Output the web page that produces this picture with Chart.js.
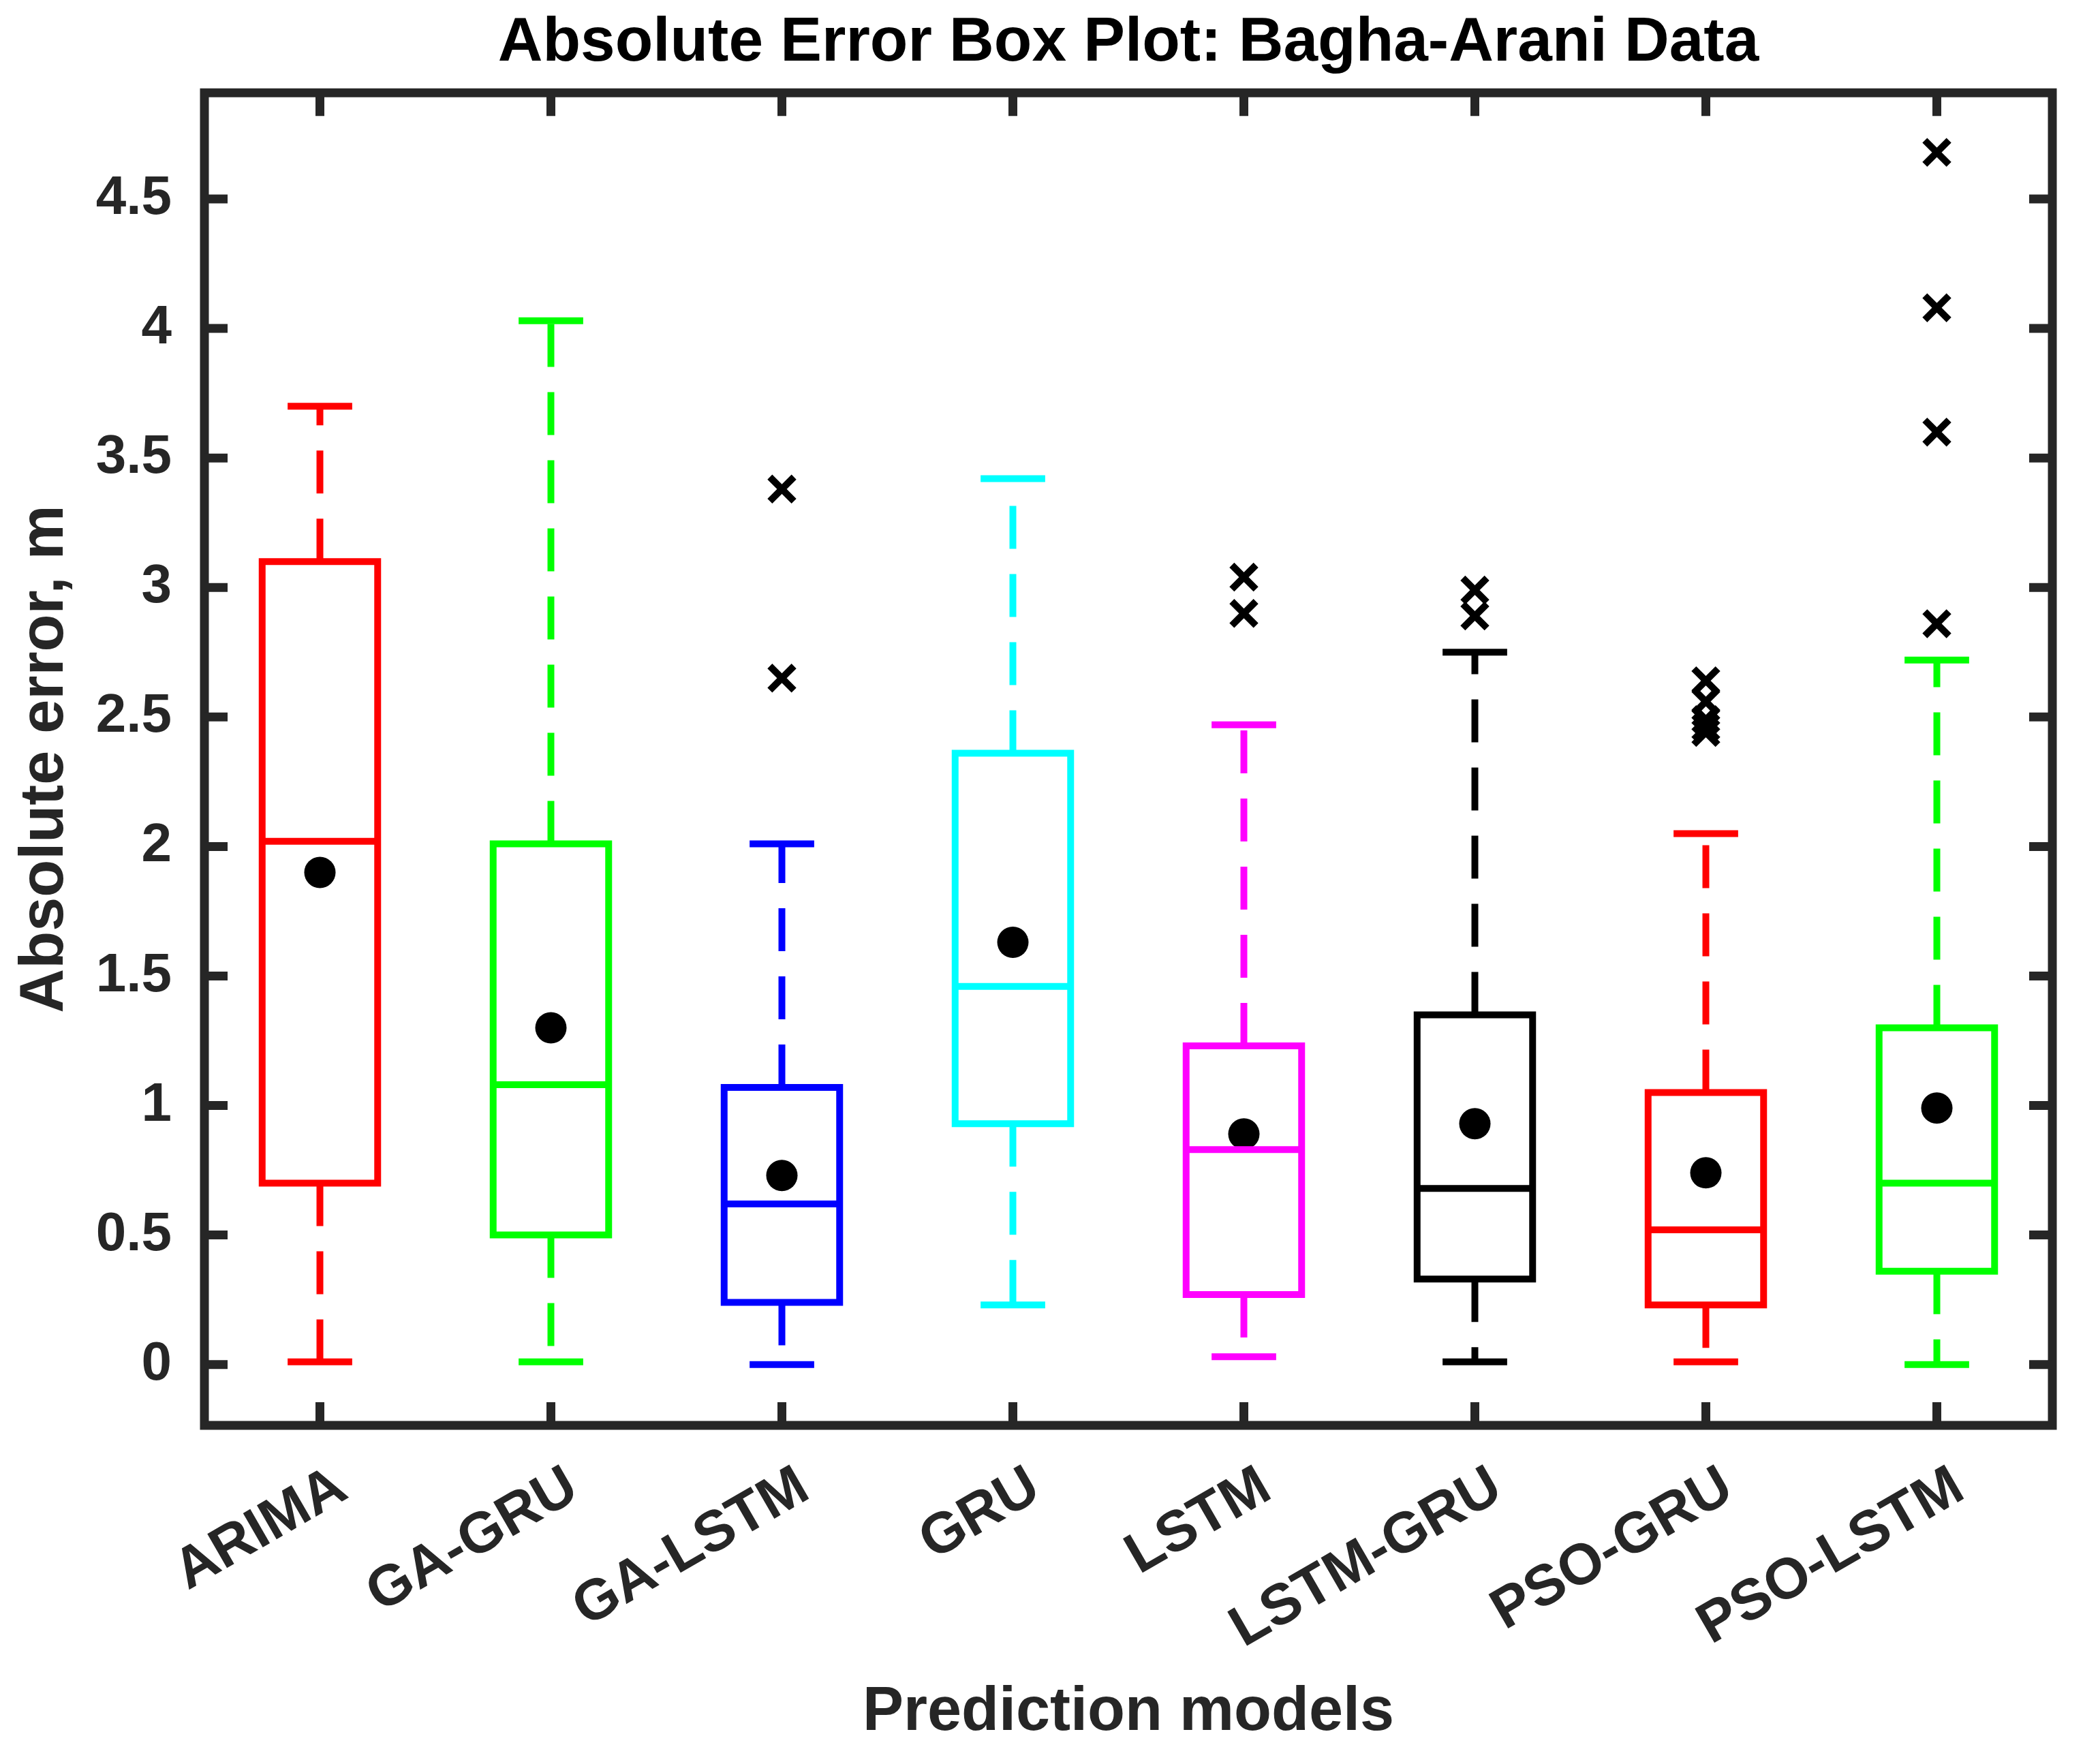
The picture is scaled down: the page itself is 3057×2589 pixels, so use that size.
<!DOCTYPE html>
<html lang="en">
<head>
    <meta charset="UTF-8">
    <title>Absolute Error Box Plot: Bagha-Arani Data</title>
    <script src="https://cdn.jsdelivr.net/npm/chart.js"></script>
    <style>
        html, body { margin: 0; padding: 0; background: #ffffff; }
        canvas { display: block; }
    </style>
</head>
<body>
    <canvas id="boxChart" width="3057" height="2589"></canvas>

    <script>
        // Values
        const categories = ["ARIMA", "GA-GRU", "GA-LSTM", "GRU", "LSTM", "LSTM-GRU", "PSO-GRU", "PSO-LSTM"];
        const whiskerLow = [0.01, 0.01, 0.00, 0.23, 0.03, 0.01, 0.01, 0.00];
        const q1 = [0.70, 0.50, 0.24, 0.93, 0.27, 0.33, 0.23, 0.36];
        const medians = [2.02, 1.08, 0.62, 1.46, 0.83, 0.68, 0.52, 0.70];
        const q3 = [3.10, 2.01, 1.07, 2.36, 1.23, 1.35, 1.05, 1.30];
        const whiskerHigh = [3.70, 4.03, 2.01, 3.42, 2.47, 2.75, 2.05, 2.72];
        const means = [1.90, 1.30, 0.73, 1.63, 0.89, 0.93, 0.74, 0.99];
        const outliers = [
            [],
            [],
            [3.38, 2.65],
            [],
            [3.04, 2.90],
            [2.99, 2.89],
            [2.64, 2.56, 2.49, 2.46, 2.44],
            [4.68, 4.08, 3.60, 2.86]
        ];
        const boxColors = ["#FF0000", "#00FF00", "#0000FF", "#00FFFF", "#FF00FF", "#000000", "#FF0000", "#00FF00"];
        const yTicks = [0, 0.5, 1, 1.5, 2, 2.5, 3, 3.5, 4, 4.5];

        const AXIS_COLOR = "#262626";
        const BOX_HALF = 0.25;
        const CAP_HALF = 0.125;
        const LINE_W = 10;
        const TICK_LEN = 34;

        Chart.defaults.font.family = "'Liberation Sans', Arial, sans-serif";
        Chart.defaults.font.weight = "bold";
        Chart.defaults.color = AXIS_COLOR;

        // box outline + median + caps, one solid path per model
        const boxPoints = (i) => {
            const x = i + 1;
            return [
                { x: x - BOX_HALF, y: q1[i] }, { x: x + BOX_HALF, y: q1[i] },
                { x: x + BOX_HALF, y: q3[i] }, { x: x - BOX_HALF, y: q3[i] },
                { x: x - BOX_HALF, y: q1[i] },
                { x: x, y: null },
                { x: x - BOX_HALF, y: medians[i] }, { x: x + BOX_HALF, y: medians[i] },
                { x: x, y: null },
                { x: x - CAP_HALF, y: whiskerHigh[i] }, { x: x + CAP_HALF, y: whiskerHigh[i] },
                { x: x, y: null },
                { x: x - CAP_HALF, y: whiskerLow[i] }, { x: x + CAP_HALF, y: whiskerLow[i] }
            ];
        };

        const datasets = [];

        // dashed whiskers, drawn from the box outwards
        categories.forEach((c, i) => {
            [[q3[i], whiskerHigh[i]], [q1[i], whiskerLow[i]]].forEach(([from, to]) => {
                datasets.push({
                    data: [{ x: i + 1, y: from }, { x: i + 1, y: to }],
                    borderColor: boxColors[i],
                    borderWidth: LINE_W,
                    borderDash: [63, 37],
                    borderCapStyle: "butt",
                    pointRadius: 0,
                    showLine: true
                });
            });
        });

        categories.forEach((c, i) => {
            datasets.push({
                data: boxPoints(i),
                borderColor: boxColors[i],
                borderWidth: LINE_W,
                borderCapStyle: "square",
                borderJoinStyle: "miter",
                pointRadius: 0,
                showLine: true,
                spanGaps: false
            });
        });

        datasets.push({
            data: means.map((m, i) => ({ x: i + 1, y: m })),
            showLine: false,
            pointStyle: "circle",
            pointRadius: 23,
            pointBackgroundColor: "#000000",
            pointBorderWidth: 0
        });

        const outlierPoints = [];
        outliers.forEach((list, i) => list.forEach(v => outlierPoints.push({ x: i + 1, y: v })));
        datasets.push({
            data: outlierPoints,
            showLine: false,
            pointStyle: "crossRot",
            pointRadius: 25,
            pointBorderWidth: 10,
            pointBorderColor: "#000000"
        });

        // MATLAB style box with inward ticks on all four sides
        const axesFrame = {
            id: "axesFrame",
            afterDraw(chart) {
                const { ctx, chartArea: a, scales } = chart;
                ctx.save();
                ctx.strokeStyle = AXIS_COLOR;
                ctx.lineWidth = 13;
                ctx.lineJoin = "miter";
                ctx.strokeRect(a.left, a.top, a.right - a.left, a.bottom - a.top);
                ctx.beginPath();
                scales.x.ticks.forEach(t => {
                    const px = scales.x.getPixelForValue(t.value);
                    ctx.moveTo(px, a.bottom);
                    ctx.lineTo(px, a.bottom - TICK_LEN);
                    ctx.moveTo(px, a.top);
                    ctx.lineTo(px, a.top + TICK_LEN);
                });
                scales.y.ticks.forEach(t => {
                    const py = scales.y.getPixelForValue(t.value);
                    ctx.moveTo(a.left, py);
                    ctx.lineTo(a.left + TICK_LEN, py);
                    ctx.moveTo(a.right, py);
                    ctx.lineTo(a.right - TICK_LEN, py);
                });
                ctx.stroke();
                ctx.restore();
            }
        };

        const ctx = document.getElementById("boxChart").getContext("2d");
        new Chart(ctx, {
            type: "line",
            data: { datasets },
            plugins: [axesFrame],
            options: {
                responsive: false,
                devicePixelRatio: 1,
                animation: false,
                layout: { padding: { left: 0, right: 45, top: 0, bottom: 0 } },
                scales: {
                    x: {
                        type: "linear",
                        min: 0.5,
                        max: 8.5,
                        afterBuildTicks: (s) => { s.ticks = categories.map((c, i) => ({ value: i + 1 })); },
                        afterFit: (s) => { s.height = 497; },
                        grid: { display: false },
                        border: { display: false },
                        ticks: {
                            autoSkip: false,
                            minRotation: 30,
                            maxRotation: 30,
                            padding: 33,
                            labelOffset: 33,
                            font: { size: 84, weight: "bold" },
                            callback: (v) => categories[v - 1]
                        },
                        title: {
                            display: true,
                            text: "Prediction models",
                            font: { size: 90, weight: "bold" },
                            padding: { top: 0, bottom: 21 }
                        }
                    },
                    y: {
                        type: "linear",
                        min: -0.235,
                        max: 4.91,
                        afterBuildTicks: (s) => { s.ticks = yTicks.map(v => ({ value: v })); },
                        afterFit: (s) => { s.width = 300; },
                        grid: { display: false },
                        border: { display: false },
                        ticks: {
                            padding: 40,
                            font: { size: 80, weight: "bold" },
                            callback: (v) => String(v)
                        },
                        title: {
                            display: true,
                            text: "Absolute error, m",
                            font: { size: 90, weight: "bold" },
                            padding: { top: 13, bottom: 0 }
                        }
                    }
                },
                plugins: {
                    legend: { display: false },
                    tooltip: { enabled: false },
                    title: {
                        display: true,
                        fullSize: false,
                        text: "Absolute Error Box Plot: Bagha-Arani Data",
                        color: "#000000",
                        font: { size: 91, weight: "bold", lineHeight: 1.2 },
                        padding: { top: 9, bottom: 18 }
                    }
                }
            }
        });
    </script>
</body>
</html>
